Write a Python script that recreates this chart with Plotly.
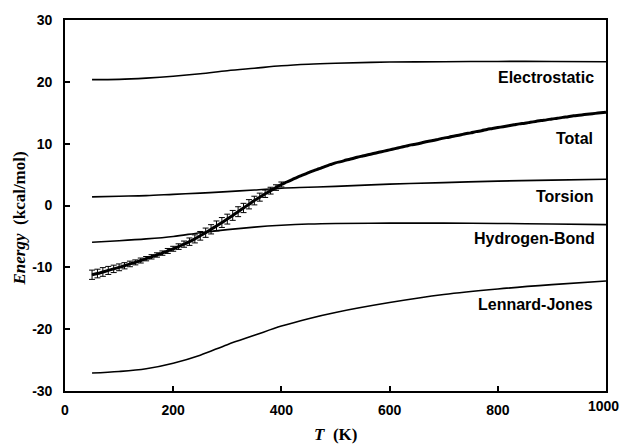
import plotly.graph_objects as go

# ---- data ----
T_comp = [50, 100, 150, 200, 250, 300, 350, 400, 450, 500, 600, 700, 800, 900, 1000]
electrostatic = [20.35, 20.4, 20.6, 20.9, 21.3, 21.8, 22.2, 22.6, 22.85, 23.0, 23.2, 23.25, 23.3, 23.3, 23.25]
torsion = [1.4, 1.5, 1.6, 1.8, 2.0, 2.25, 2.5, 2.8, 2.95, 3.1, 3.45, 3.7, 3.95, 4.1, 4.25]
hbond = [-5.95, -5.7, -5.4, -5.0, -4.4, -3.9, -3.5, -3.2, -3.0, -2.9, -2.85, -2.85, -2.9, -3.0, -3.1]
lennard_jones = [-27.1, -26.85, -26.4, -25.5, -24.2, -22.5, -21.0, -19.5, -18.3, -17.3, -15.7, -14.4, -13.5, -12.8, -12.2]

T_total = list(range(50, 1001, 10))
total = [-11.2, -11.0, -10.75, -10.5, -10.25, -10.0, -9.75, -9.45, -9.2, -8.9,
         -8.6, -8.3, -8.0, -7.7, -7.35, -7.0, -6.65, -6.25, -5.85, -5.4,
         -4.9, -4.4, -3.85, -3.3, -2.75, -2.2, -1.6, -1.0, -0.4, 0.2,
         0.8, 1.35, 1.9, 2.4, 2.9, 3.4, 3.8, 4.2, 4.6, 4.95,
         5.3, 5.65, 5.95, 6.3, 6.6, 6.9, 7.1, 7.35, 7.55, 7.8,
         8.0, 8.2, 8.4, 8.6, 8.8, 9.0, 9.2, 9.4, 9.6, 9.8,
         9.95, 10.15, 10.35, 10.5, 10.7, 10.9, 11.05, 11.25, 11.4, 11.6,
         11.75, 11.95, 12.1, 12.3, 12.45, 12.6, 12.75, 12.9, 13.05, 13.2,
         13.3, 13.45, 13.6, 13.75, 13.85, 14.0, 14.1, 14.25, 14.35, 14.5,
         14.6, 14.7, 14.8, 14.9, 15.0, 15.1]

T_err = list(range(50, 401, 10))
total_err = [0.75, 0.7, 0.7, 0.65, 0.6, 0.55, 0.5,
             0.45, 0.4, 0.4, 0.35, 0.35, 0.35, 0.35, 0.4, 0.4, 0.45, 0.5,
             0.6, 0.65, 0.7, 0.75, 0.75, 0.8, 0.8, 0.8, 0.8, 0.8, 0.75, 0.75, 0.7, 0.65, 0.6, 0.55,
             0.45, 0.4]
total_at_err = [total[T_total.index(t)] for t in T_err]

labels = ["Electrostatic", "Total", "Torsion", "Hydrogen-Bond", "Lennard-Jones"]
x_ticks = [0, 200, 400, 600, 800, 1000]
y_ticks = [-30, -20, -10, 0, 10, 20, 30]

# ---- figure ----
fig = go.Figure()
thin = dict(color="black", width=1.6, shape="spline")
fig.add_trace(go.Scatter(x=T_comp, y=electrostatic, mode="lines", line=thin))
fig.add_trace(go.Scatter(x=T_comp, y=torsion, mode="lines", line=thin))
fig.add_trace(go.Scatter(x=T_comp, y=hbond, mode="lines", line=thin))
fig.add_trace(go.Scatter(x=T_comp, y=lennard_jones, mode="lines", line=thin))
fig.add_trace(go.Scatter(x=T_total, y=total, mode="lines",
                         line=dict(color="black", width=3, shape="spline")))
fig.add_trace(go.Scatter(x=T_err, y=total_at_err, mode="markers",
                         marker=dict(size=1, color="black"),
                         error_y=dict(type="data", array=total_err, visible=True,
                                      color="black", thickness=1, width=3)))

label_pos = [(982, 20.67), (980, 10.8), (980, 1.5), (983, -5.3), (980, -16.0)]
for text, (lx, ly) in zip(labels, label_pos):
    fig.add_annotation(x=lx, y=ly, xref="x", yref="y", text="<b>%s</b>" % text,
                       showarrow=False, xanchor="right", yanchor="middle",
                       font=dict(family="Liberation Sans", size=16, color="black"))

fig.add_annotation(x=0, y=0.465, xref="paper", yref="paper", xshift=-46,
                   text="<b><i>Energy</i>  (kcal/mol)</b>", textangle=-90,
                   showarrow=False, xanchor="center", yanchor="middle",
                   font=dict(family="Liberation Serif", size=17, color="black"))
fig.add_annotation(x=0.5, y=0, xref="paper", yref="paper", yshift=-43,
                   text="<b><i>T</i>  (K)</b>",
                   showarrow=False, xanchor="center", yanchor="middle",
                   font=dict(family="Liberation Serif", size=17, color="black"))

tickfont = dict(family="Liberation Sans", size=14, color="black", weight="bold")
# last x tick label sits at the paper edge; drawn as annotation so it is not hidden
fig.add_annotation(x=1000, y=0, xref="x", yref="paper", yshift=-15, xshift=15,
                   text=str(x_ticks[-1]), showarrow=False, xanchor="right",
                   yanchor="middle", font=tickfont)

axis_common = dict(showgrid=False, zeroline=False, showline=True, linecolor="black",
                   linewidth=1.6, mirror=True, ticks="inside", ticklen=5,
                   tickcolor="black", tickwidth=1.5, tickfont=tickfont)
fig.update_xaxes(range=[0, 1000], tickvals=x_ticks,
                 ticktext=[str(v) for v in x_ticks[:-1]] + [""],
                 ticklabelstandoff=5, **axis_common)
fig.update_yaxes(range=[-30, 30], tickvals=y_ticks, ticktext=[str(v) for v in y_ticks],
                 ticklabelstandoff=8, **axis_common)

fig.update_layout(width=621, height=444, showlegend=False,
                  margin=dict(l=65, r=15, t=15, b=53),
                  plot_bgcolor="white", paper_bgcolor="white")

fig.write_html("out.html")
